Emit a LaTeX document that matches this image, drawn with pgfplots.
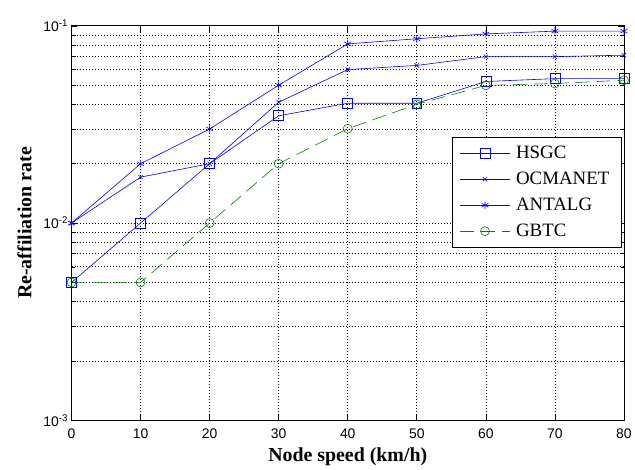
\documentclass[border=0pt]{standalone}
\usepackage{pgfplots}
\pgfplotsset{compat=1.18}
\usepackage{fontspec}
\setmainfont{Liberation Serif}
\newfontfamily\tickfont{Liberation Sans}
\definecolor{mblue}{RGB}{0,0,255}
\definecolor{mgreen}{RGB}{0,128,0}
\begin{document}
\begin{tikzpicture}
\begin{semilogyaxis}[
  scale only axis, width=556pt, height=397pt,
  xmin=0, xmax=80, ymin=1e-3, ymax=1e-1,
  xtick={0,10,...,80},
  xticklabels={0,10,20,30,40,50,60,70,80},
  ytick={1e-3,1e-2,1e-1},
  yticklabels={10\textsuperscript{-3},10\textsuperscript{-2},10\textsuperscript{-1}},
  ticklabel style={font=\tickfont\fontsize{14}{16}\selectfont},
  xticklabel style={yshift=-5pt},
  xmajorgrids, ymajorgrids, yminorgrids,
  grid style={black, dash pattern=on 0.8pt off 2.2pt, line width=0.7pt},
  major grid style={black, dash pattern=on 0.8pt off 2.2pt, line width=0.7pt},
  minor grid style={black, dash pattern=on 0.8pt off 2.2pt, line width=0.7pt},
  axis line style={black, line width=0.8pt},
  tick style={black, line width=0.6pt},
  major tick length=6pt, minor tick length=3pt,
  xlabel={\textbf{Node speed (km/h)}},
  ylabel={\textbf{Re-affiliation rate}},
  label style={font=\fontsize{20}{24}\selectfont},
  xlabel style={at={(axis description cs:0.5,-0.093)}, anchor=center},
  ylabel style={at={(axis description cs:-0.085,0.5)}, anchor=center},
  legend style={at={(0.996,0.718)}, anchor=north east, draw=black, line width=0.8pt, fill=white,
    font=\fontsize{19}{22}\selectfont, row sep=8pt, column sep=2pt, inner xsep=8pt, inner ysep=7pt,
    nodes={inner xsep=4pt}},
  legend cell align=left,
  legend image code/.code={\draw[mark repeat=2,mark phase=2,#1] plot coordinates {(0pt,0pt) (25pt,0pt) (50pt,0pt)};},
]
\addplot[mblue, line width=0.6pt, mark=square, mark size=5pt] coordinates {
(0,0.005) (10,0.01) (20,0.02) (30,0.035) (40,0.0405) (50,0.0405) (60,0.0522) (70,0.054) (80,0.054)};
\addlegendentry{HSGC\hspace{8pt}}
\addplot[mblue, line width=0.6pt, mark=x, mark size=3pt] coordinates {
(0,0.01) (10,0.0171) (20,0.02) (30,0.041) (40,0.06) (50,0.063) (60,0.0698) (70,0.0698) (80,0.071)};
\addlegendentry{OCMANET\hspace{8pt}}
\addplot[mblue, line width=0.6pt, mark=asterisk, mark size=4pt] coordinates {
(0,0.01) (10,0.02) (20,0.03) (30,0.05) (40,0.081) (50,0.086) (60,0.091) (70,0.094) (80,0.094)};
\addlegendentry{ANTALG}
\addplot[mgreen, line width=0.6pt, dash pattern=on 14pt off 7pt, mark=o, mark size=4.5pt, mark options={solid}] coordinates {
(0,0.005) (10,0.005) (20,0.01) (30,0.02) (40,0.0301) (50,0.04) (60,0.0499) (70,0.051) (80,0.053)};
\addlegendentry{GBTC}
\end{semilogyaxis}
\path (current axis.south west) ++(-72pt,-46pt);
\path (current axis.north east) ++(7pt,26pt);
\end{tikzpicture}
\end{document}
